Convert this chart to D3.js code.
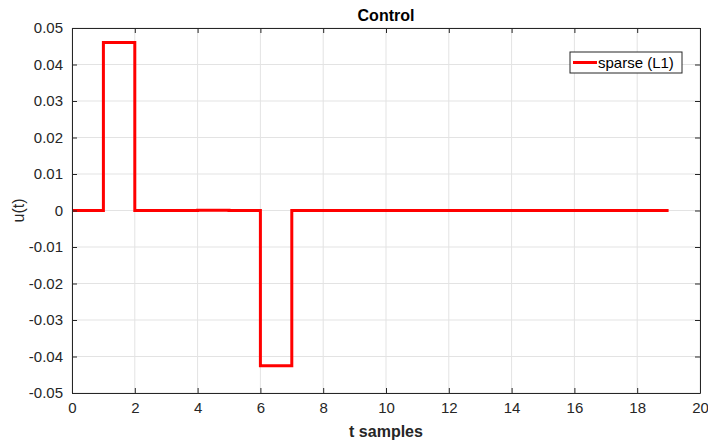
<!DOCTYPE html>
<html>
<head>
<meta charset="utf-8">
<script src="https://cdn.jsdelivr.net/npm/d3@7"></script>
<style>
  body { margin: 0; background: #fff; }
  svg { display: block; font-family: "Liberation Sans", Arial, sans-serif; }
</style>
</head>
<body>
<svg id="chart" width="708" height="443"></svg>
<script>
// data
var samples = d3.range(0, 20);
var uSparse = [0, 0.046, 0, 0, 0.0001, 0, -0.0425, 0, 0, 0, 0, 0, 0, 0, 0, 0, 0, 0, 0, 0];
var xTicks = d3.range(0, 21, 2);
var yTicks = [-0.05, -0.04, -0.03, -0.02, -0.01, 0, 0.01, 0.02, 0.03, 0.04, 0.05];

var svg = d3.select('#chart');
var m = { left: 72, top: 28, right: 700, bottom: 393 };
var x = d3.scaleLinear().domain([0, 20]).range([m.left, m.right]);
var y = d3.scaleLinear().domain([-0.05, 0.05]).range([m.bottom, m.top]);
var axisCol = '#262626';

// grid
var g = svg.append('g');
g.selectAll('.gx').data(xTicks).enter().append('line')
  .attr('x1', function(d) { return x(d); }).attr('x2', function(d) { return x(d); })
  .attr('y1', m.top).attr('y2', m.bottom)
  .attr('stroke', '#e3e3e3').attr('stroke-width', 1);
g.selectAll('.gy').data(yTicks).enter().append('line')
  .attr('y1', function(d) { return y(d); }).attr('y2', function(d) { return y(d); })
  .attr('x1', m.left).attr('x2', m.right)
  .attr('stroke', '#e3e3e3').attr('stroke-width', 1);

// data line
var line = d3.line()
  .x(function(d, i) { return x(samples[i]); })
  .y(function(d) { return y(d); })
  .curve(d3.curveStepAfter);
svg.append('path').datum(uSparse)
  .attr('d', line)
  .attr('fill', 'none').attr('stroke', '#ff0000').attr('stroke-width', 3);

// axes (ticks inward, box on)
var fmtY = function(d) { return d === 0 ? '0' : d3.format('.2f')(d).replace('−', '-'); };
var axB = d3.axisBottom(x).tickValues(xTicks).tickSizeInner(-5).tickSizeOuter(0).tickPadding(9);
var axT = d3.axisTop(x).tickValues(xTicks).tickSizeInner(-5).tickSizeOuter(0).tickFormat('');
var axL = d3.axisLeft(y).tickValues(yTicks).tickSizeInner(-5).tickSizeOuter(0).tickPadding(9).tickFormat(fmtY);
var axR = d3.axisRight(y).tickValues(yTicks).tickSizeInner(-5).tickSizeOuter(0).tickFormat('');

function style(sel) {
  sel.selectAll('path').attr('stroke', axisCol);
  sel.selectAll('line').attr('stroke', axisCol);
  sel.selectAll('text').attr('fill', axisCol).style('font-size', '15px').style('font-family', '"Liberation Sans", Arial, sans-serif');
}
svg.append('g').attr('transform', 'translate(0,' + m.bottom + ')').call(axB).call(style);
svg.append('g').attr('transform', 'translate(0,' + m.top + ')').call(axT).call(style);
svg.append('g').attr('transform', 'translate(' + m.left + ',0)').call(axL).call(style);
svg.append('g').attr('transform', 'translate(' + m.right + ',0)').call(axR).call(style);

// title and labels
svg.append('text').attr('x', (m.left + m.right) / 2).attr('y', 21)
  .attr('text-anchor', 'middle').attr('font-weight', 'bold').attr('font-size', 16)
  .attr('fill', '#000').text('Control');
svg.append('text').attr('x', (m.left + m.right) / 2).attr('y', 437)
  .attr('text-anchor', 'middle').attr('font-weight', 'bold').attr('font-size', 16)
  .attr('fill', axisCol).text('t samples');
svg.append('text').attr('transform', 'translate(24,' + ((m.top + m.bottom) / 2) + ') rotate(-90)')
  .attr('text-anchor', 'middle').attr('font-size', 16)
  .attr('fill', axisCol).text('u(t)');

// legend
var lg = svg.append('g').attr('transform', 'translate(570,52)');
lg.append('rect').attr('width', 112).attr('height', 21)
  .attr('fill', '#fff').attr('stroke', axisCol).attr('stroke-width', 1);
lg.append('line').attr('x1', 3).attr('x2', 27).attr('y1', 10.5).attr('y2', 10.5)
  .attr('stroke', '#ff0000').attr('stroke-width', 3);
lg.append('text').attr('x', 28).attr('y', 15.5).attr('font-size', 15)
  .attr('fill', '#000').text('sparse (L1)');
</script>
</body>
</html>
